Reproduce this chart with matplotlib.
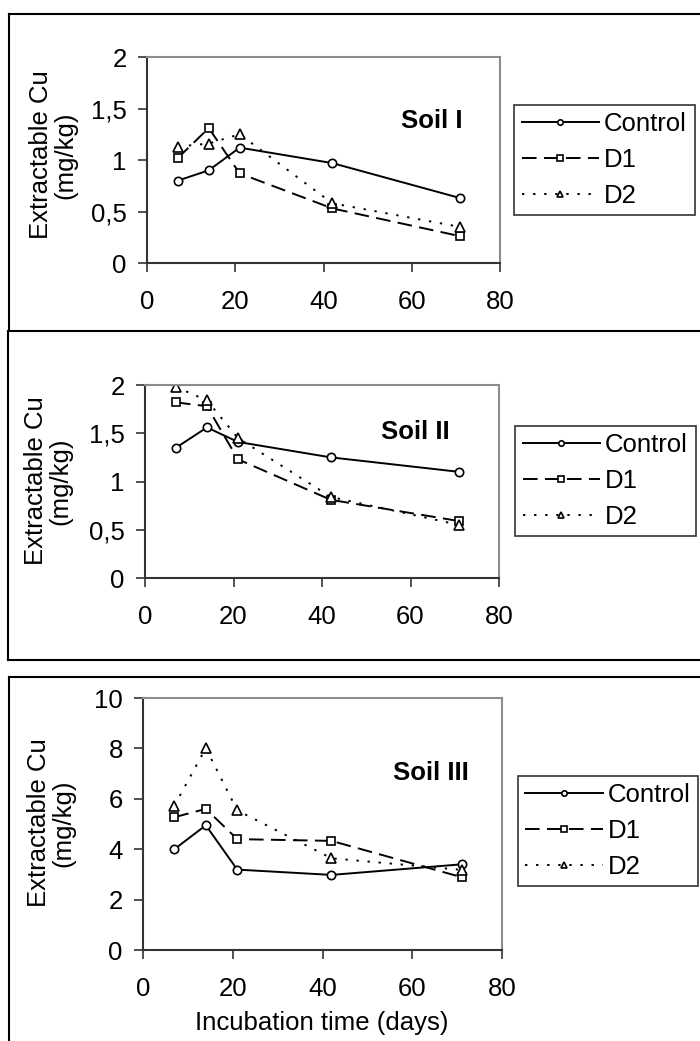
import matplotlib
matplotlib.use("Agg")
import matplotlib.pyplot as plt
from matplotlib.lines import Line2D

plt.rcParams['font.family'] = ['Liberation Sans', 'DejaVu Sans']

# ---------------- data ----------------
days = [7, 14, 21, 42, 71]
series_names = ["Control", "D1", "D2"]

soil1_control = [0.80, 0.90, 1.12, 0.97, 0.63]
soil1_d1 = [1.02, 1.31, 0.87, 0.53, 0.26]
soil1_d2 = [1.13, 1.16, 1.25, 0.58, 0.35]

soil2_control = [1.35, 1.56, 1.41, 1.25, 1.10]
soil2_d1 = [1.82, 1.78, 1.23, 0.81, 0.59]
soil2_d2 = [1.98, 1.84, 1.45, 0.84, 0.55]

soil3_control = [4.00, 4.95, 3.19, 2.98, 3.40]
soil3_d1 = [5.27, 5.60, 4.40, 4.33, 2.89]
soil3_d2 = [5.73, 8.01, 5.54, 3.64, 3.18]

panel_titles = ["Soil I", "Soil II", "Soil III"]
xticks = [0, 20, 40, 60, 80]
xtick_labels = ["0", "20", "40", "60", "80"]
yticks_small = [0, 0.5, 1, 1.5, 2]
ytick_labels_small = ["0", "0,5", "1", "1,5", "2"]
yticks_big = [0, 2, 4, 6, 8, 10]
ytick_labels_big = ["0", "2", "4", "6", "8", "10"]
ylabel_text = "Extractable Cu\n(mg/kg)"
xlabel_text = "Incubation time (days)"

# ---------------- layout (pixels) ----------------
W, H = 700, 1041
fig = plt.figure(figsize=(W / 100, H / 100), dpi=100)
fig.patch.set_facecolor("white")


def fx(x):
    return x / W


def fy(y):
    return 1 - y / H


def axes_px(l, t, r, b):
    return fig.add_axes([fx(l), fy(b), (r - l) / W, (b - t) / H])


# outer frames
def hline(x0, x1, y, lw=1.5):
    fig.add_artist(Line2D([fx(x0), fx(x1)], [fy(y), fy(y)], transform=fig.transFigure,
                          color="black", lw=lw))


def vline(x, y0, y1, lw=1.5):
    fig.add_artist(Line2D([fx(x), fx(x)], [fy(y0), fy(y1)], transform=fig.transFigure,
                          color="black", lw=lw))


hline(8.5, 705, 13.5)
vline(8.5, 13.5, 331)
hline(7.5, 705, 331)
vline(7.5, 331, 660)
hline(7.5, 705, 660)
hline(8.5, 705, 677)
vline(8.5, 677, 1045)

panels = [
    dict(box=(147, 57, 500, 263), data=[soil1_control, soil1_d1, soil1_d2],
         yt=yticks_small, ytl=ytick_labels_small, ylim=(0, 2),
         title_xy=(432, 120.5), leg_c=(604.5, 160), ylab_xy=(53, 155)),
    dict(box=(145, 385, 499, 578), data=[soil2_control, soil2_d1, soil2_d2],
         yt=yticks_small, ytl=ytick_labels_small, ylim=(0, 2),
         title_xy=(415, 432), leg_c=(605.5, 481), ylab_xy=(48, 481)),
    dict(box=(143, 698, 502, 950), data=[soil3_control, soil3_d1, soil3_d2],
         yt=yticks_big, ytl=ytick_labels_big, ylim=(0, 10),
         title_xy=(431, 773), leg_c=(608, 831), ylab_xy=(51, 823)),
]

styles = [
    dict(linestyle="-", marker="o", markersize=6),
    dict(linestyle=(0, (7.5, 3.8)), marker="s", markersize=6),
    dict(linestyle=(0, (1.2, 4.5)), marker="^", markersize=7),
]

FS = 18.5
for i, p in enumerate(panels):
    ax = axes_px(*p["box"])
    for name, vals, st in zip(series_names, p["data"], styles):
        ax.plot(days, vals, color="black", lw=1.4, markerfacecolor="white",
                markeredgecolor="black", markeredgewidth=1.2, label=name, **st)
    ax.set_xlim(0, 80)
    ax.set_ylim(*p["ylim"])
    ax.set_xticks(xticks)
    ax.set_xticklabels(xtick_labels)
    ax.set_yticks(p["yt"])
    ax.set_yticklabels(p["ytl"])
    ax.tick_params(axis="both", direction="out", length=6.5, width=1.2,
                   color="#333333", labelsize=FS)
    ax.tick_params(axis="x", pad=13)
    ax.tick_params(axis="y", pad=8)
    for s in ("left", "bottom"):
        ax.spines[s].set_color("#333333")
        ax.spines[s].set_linewidth(1.5)
    for s in ("top", "right"):
        ax.spines[s].set_color("#8c8c8c")
        ax.spines[s].set_linewidth(1.5)
    ax.set_facecolor("white")

    fig.text(fx(p["title_xy"][0]), fy(p["title_xy"][1]), panel_titles[i],
             fontsize=FS, fontweight="bold", ha="center", va="center")
    fig.text(fx(p["ylab_xy"][0]), fy(p["ylab_xy"][1]), ylabel_text,
             fontsize=FS, rotation=90, ha="center", va="center",
             multialignment="center", linespacing=1.0)

    leg = ax.legend(loc="center", bbox_to_anchor=(fx(p["leg_c"][0]), fy(p["leg_c"][1])),
                    bbox_transform=fig.transFigure, fontsize=FS, frameon=True,
                    fancybox=False, framealpha=1, edgecolor="#333333",
                    handlelength=3.0, handletextpad=0.2, borderpad=0.3,
                    labelspacing=0.45, markerscale=0.65, borderaxespad=0)
    leg.get_frame().set_linewidth(1.2)

    if i == 2:
        fig.text(fx(322), fy(1023), xlabel_text, fontsize=FS, ha="center", va="center")

fig.savefig("out.png", dpi=100, facecolor="white")
